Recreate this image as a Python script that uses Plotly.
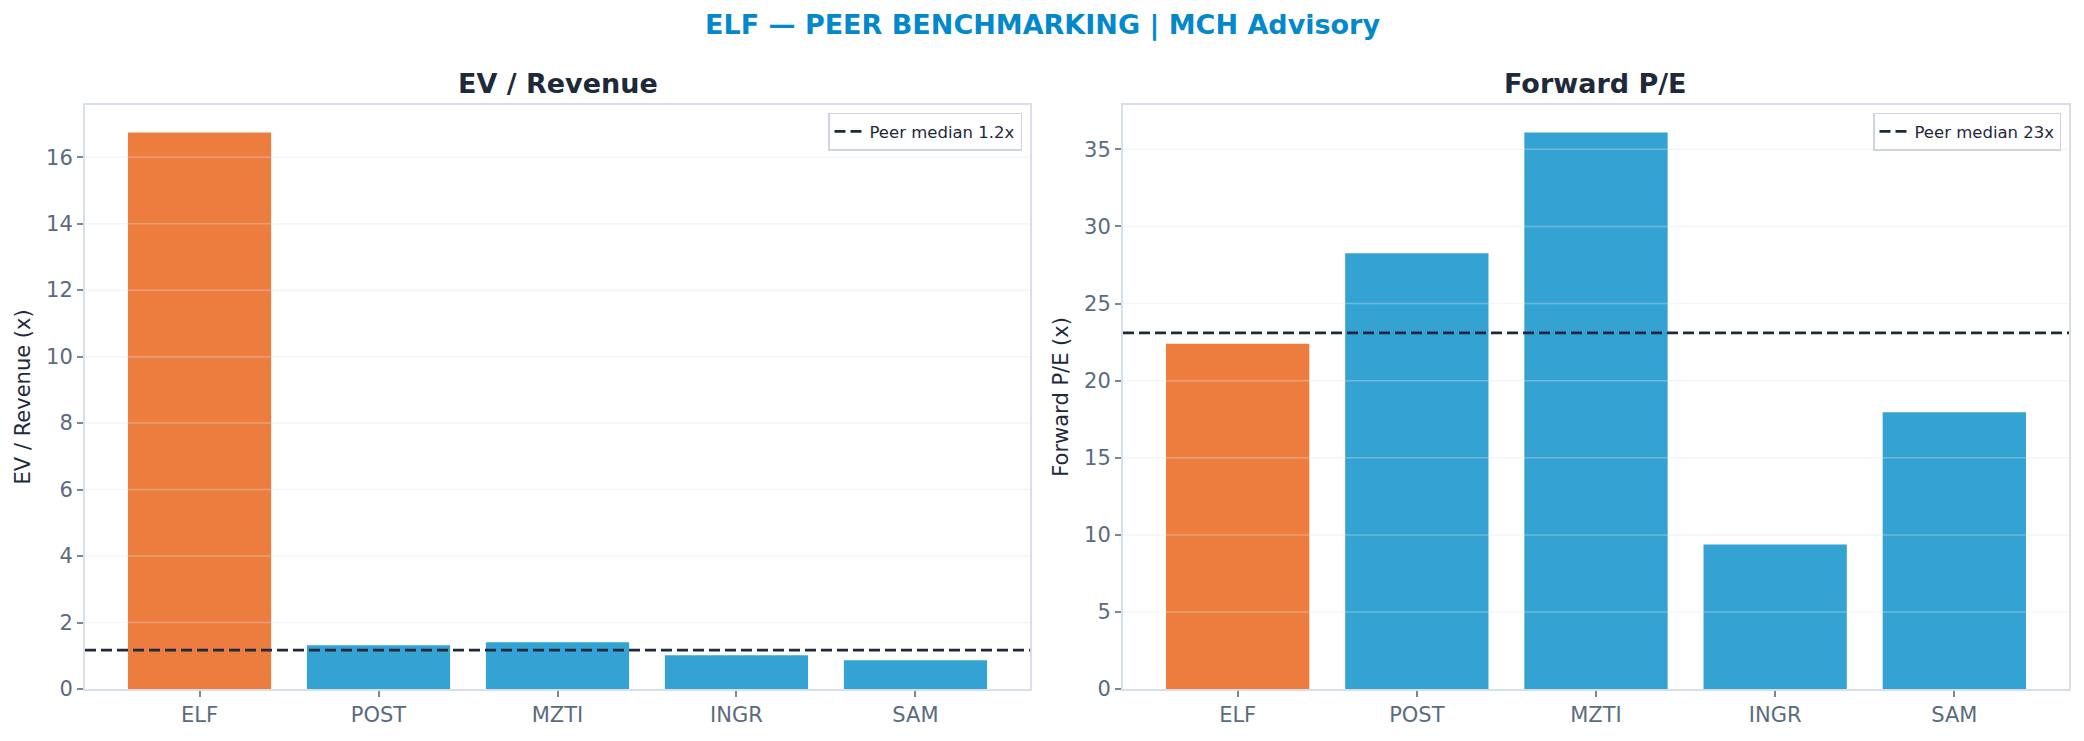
import plotly.graph_objects as go

# ---- data ----
categories = ["ELF", "POST", "MZTI", "INGR", "SAM"]
ev_revenue = [16.74, 1.32, 1.41, 1.02, 0.87]
fwd_pe = [22.39, 28.27, 36.09, 9.37, 17.96]
ev_median = 1.17
pe_median = 23.1
ev_ticks = [0, 2, 4, 6, 8, 10, 12, 14, 16]
pe_ticks = [0, 5, 10, 15, 20, 25, 30, 35]

W, H = 2084, 741
H_EFF = 731  # height the page is actually drawn at
ORANGE = "#ED7C3F"
BLUE = "#34A2D3"
TICK_C = "#5b6b7f"
DARK = "#1e293b"
SPINE = "#d9dfe8"
FONT = "DejaVu Sans"

pos = list(range(len(categories)))
colors = [ORANGE if c == "ELF" else BLUE for c in categories]


def px_x(p):
    return p / W


def px_y(p):
    return (H_EFF - p) / H_EFF


dom_y = [px_y(691), px_y(105)]
dom_x1 = [px_x(85), px_x(1030)]
dom_x2 = [px_x(1123), px_x(2069)]

fig = go.Figure()
fig.add_trace(go.Bar(x=pos, y=ev_revenue, marker=dict(color=colors, line=dict(width=0)),
                     width=0.8, xaxis="x", yaxis="y", showlegend=False))
fig.add_trace(go.Bar(x=pos, y=fwd_pe, marker=dict(color=colors, line=dict(width=0)),
                     width=0.8, xaxis="x2", yaxis="y2", showlegend=False))

xr = [-0.4 - 0.24, len(categories) - 1 + 0.4 + 0.24]
ev_top = max(ev_revenue) * 1.05
pe_top = max(fwd_pe) * 1.05

common_x = dict(range=xr, tickvals=pos, ticktext=categories, showgrid=False,
                zeroline=False, showline=True, mirror=True, linecolor=SPINE, linewidth=2,
                ticks="outside", ticklen=6, tickwidth=1.5, tickcolor="#7a8796",
                tickfont=dict(family=FONT, size=21, color=TICK_C), fixedrange=True)
common_y = dict(showgrid=False, zeroline=False, showline=True, mirror=True,
                linecolor=SPINE, linewidth=2, ticks="outside", ticklen=6, tickwidth=1.5,
                tickcolor="#7a8796", tickfont=dict(family=FONT, size=21, color=TICK_C))

fig.update_layout(
    width=W, height=H, margin=dict(l=0, r=0, t=0, b=0),
    paper_bgcolor="white", plot_bgcolor="white",
    font=dict(family=FONT),
    bargap=0.2,
    xaxis=dict(domain=dom_x1, anchor="y", **common_x),
    xaxis2=dict(domain=dom_x2, anchor="y2", **common_x),
    yaxis=dict(domain=dom_y, anchor="x", range=[0, ev_top], tickvals=ev_ticks,
               title=dict(text="EV / Revenue (x)", font=dict(family=FONT, size=21, color=DARK), standoff=10),
               **common_y),
    yaxis2=dict(domain=dom_y, anchor="x2", range=[0, pe_top], tickvals=pe_ticks,
                title=dict(text="Forward P/E (x)", font=dict(family=FONT, size=21, color=DARK), standoff=10),
                **common_y),
    legend=dict(x=px_x(1022), y=px_y(113), xanchor="right", yanchor="top",
                bgcolor="white", bordercolor="#cfd5dd", borderwidth=1.5,
                font=dict(family=FONT, size=16.5, color=DARK)),
    legend2=dict(x=px_x(2061), y=px_y(113), xanchor="right", yanchor="top",
                 bgcolor="white", bordercolor="#cfd5dd", borderwidth=1.5,
                 font=dict(family=FONT, size=16.5, color=DARK)),
)

# gridlines drawn over the bars
for ax, ticks in (("", ev_ticks), ("2", pe_ticks)):
    for t in ticks[1:]:
        fig.add_shape(type="line", xref=f"x{ax} domain", yref=f"y{ax}", x0=0, x1=1, y0=t, y1=t,
                      line=dict(color="rgba(222,226,232,0.35)", width=1.5), layer="above")

# peer median lines (with legend entries)
fig.add_shape(type="line", xref="x domain", yref="y", x0=0, x1=1, y0=ev_median, y1=ev_median,
              line=dict(color=DARK, width=2.8, dash="11px,5px"), layer="above",
              showlegend=True, name=f"Peer median {ev_median:.1f}x", legend="legend")
fig.add_shape(type="line", xref="x2 domain", yref="y2", x0=0, x1=1, y0=pe_median, y1=pe_median,
              line=dict(color=DARK, width=2.8, dash="11px,5px"), layer="above",
              showlegend=True, name=f"Peer median {pe_median:.0f}x", legend="legend2")

# titles
fig.add_annotation(text="<b>ELF — PEER BENCHMARKING | MCH Advisory</b>", xref="paper", yref="paper",
                   x=0.5, y=px_y(25), xanchor="center", yanchor="middle", showarrow=False,
                   font=dict(family=FONT, size=27, color="#0389cb"))
fig.add_annotation(text="<b>EV / Revenue</b>", xref="paper", yref="paper",
                   x=(dom_x1[0] + dom_x1[1]) / 2, y=px_y(84), xanchor="center", yanchor="middle",
                   showarrow=False, font=dict(family=FONT, size=27, color="#1e2a3a"))
fig.add_annotation(text="<b>Forward P/E</b>", xref="paper", yref="paper",
                   x=(dom_x2[0] + dom_x2[1]) / 2, y=px_y(84), xanchor="center", yanchor="middle",
                   showarrow=False, font=dict(family=FONT, size=27, color="#1e2a3a"))

fig.write_html("out.html")
